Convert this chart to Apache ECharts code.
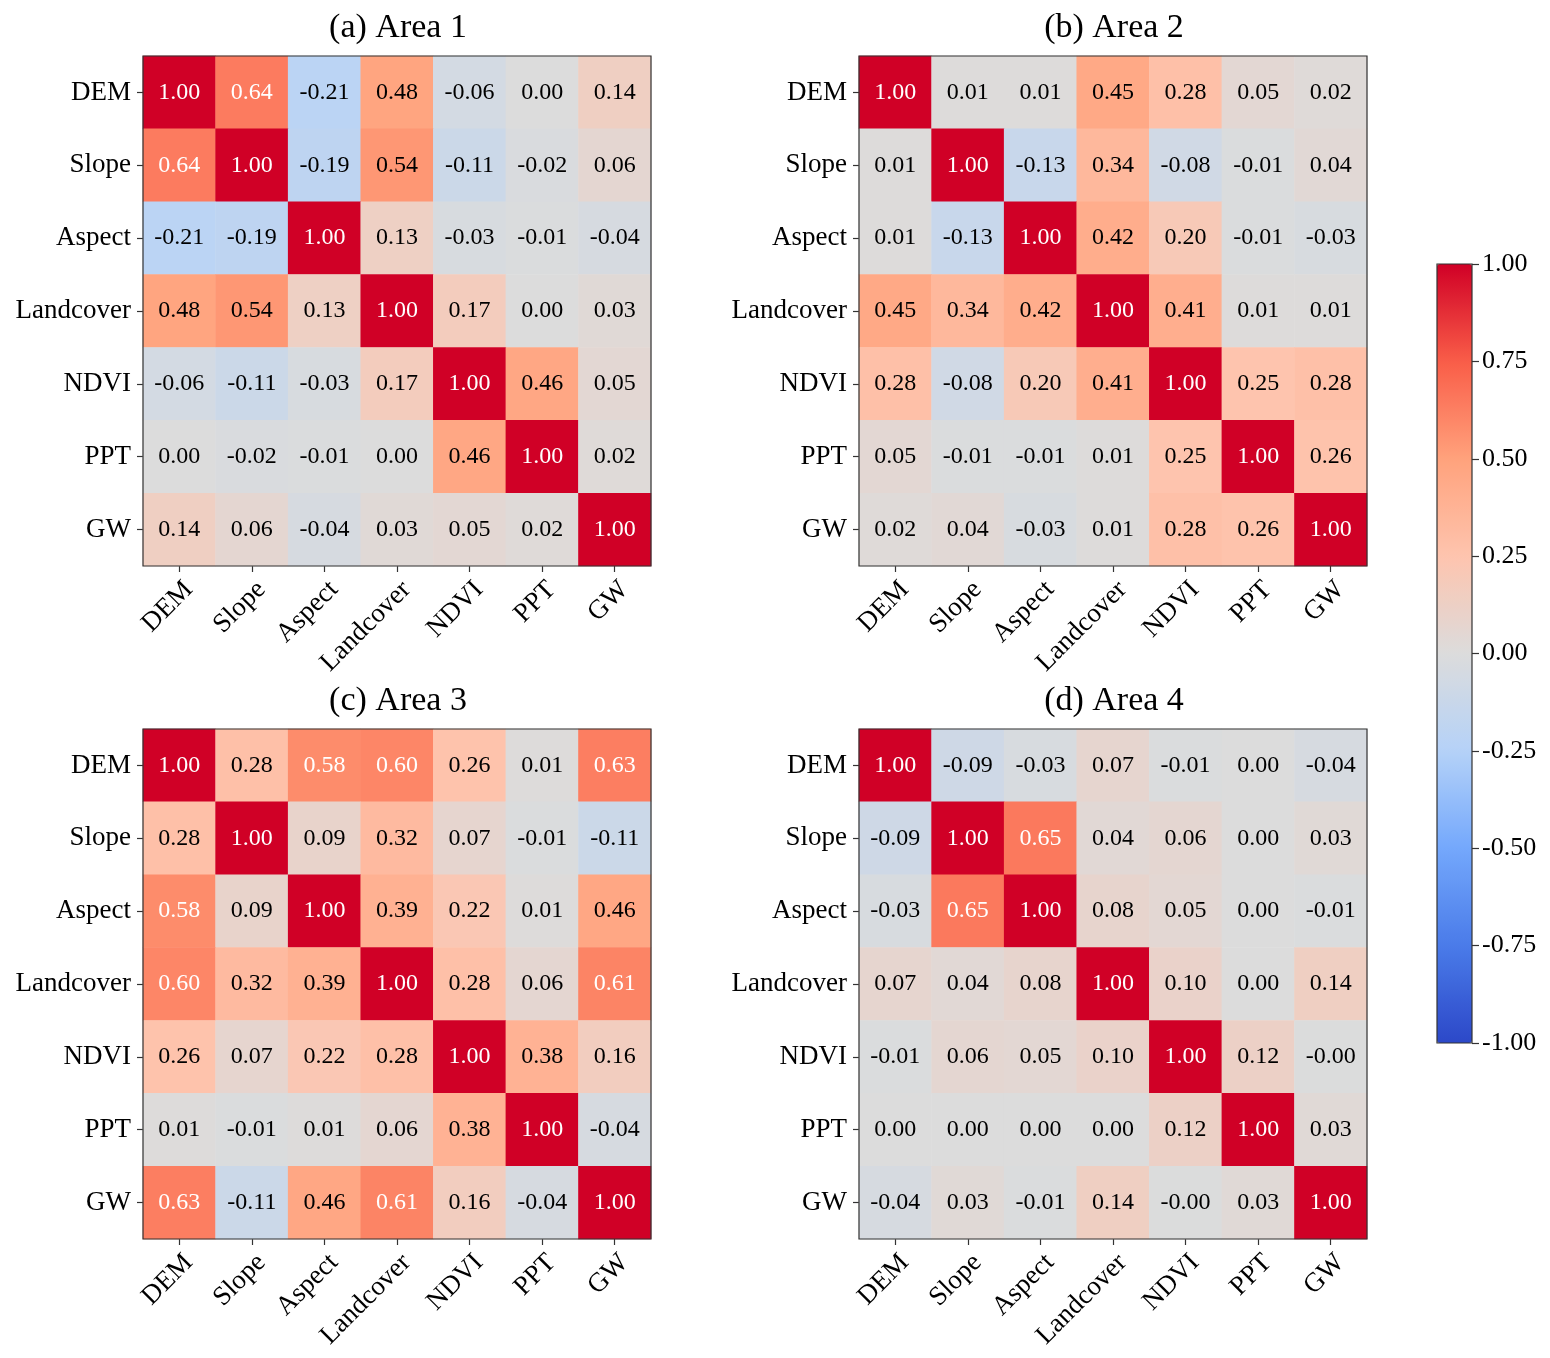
<!DOCTYPE html>
<html>
<head>
<meta charset="utf-8">
<script src="https://cdn.jsdelivr.net/npm/echarts@6/dist/echarts.min.js"></script>
<style>
  html, body { margin: 0; padding: 0; background: #fff; }
  #main { width: 1550px; height: 1358px; }
</style>
</head>
<body>
<div id="main"></div>
<script>
'use strict'
// Variables
var variables = ['DEM', 'Slope', 'Aspect', 'Landcover', 'NDVI', 'PPT', 'GW']

// Correlation matrices, one row per variable
var area1 = [
  [1.00, 0.64, -0.21, 0.48, -0.06, 0.00, 0.14],
  [0.64, 1.00, -0.19, 0.54, -0.11, -0.02, 0.06],
  [-0.21, -0.19, 1.00, 0.13, -0.03, -0.01, -0.04],
  [0.48, 0.54, 0.13, 1.00, 0.17, 0.00, 0.03],
  [-0.06, -0.11, -0.03, 0.17, 1.00, 0.46, 0.05],
  [0.00, -0.02, -0.01, 0.00, 0.46, 1.00, 0.02],
  [0.14, 0.06, -0.04, 0.03, 0.05, 0.02, 1.00]
]
var area2 = [
  [1.00, 0.01, 0.01, 0.45, 0.28, 0.05, 0.02],
  [0.01, 1.00, -0.13, 0.34, -0.08, -0.01, 0.04],
  [0.01, -0.13, 1.00, 0.42, 0.20, -0.01, -0.03],
  [0.45, 0.34, 0.42, 1.00, 0.41, 0.01, 0.01],
  [0.28, -0.08, 0.20, 0.41, 1.00, 0.25, 0.28],
  [0.05, -0.01, -0.01, 0.01, 0.25, 1.00, 0.26],
  [0.02, 0.04, -0.03, 0.01, 0.28, 0.26, 1.00]
]
var area3 = [
  [1.00, 0.28, 0.58, 0.60, 0.26, 0.01, 0.63],
  [0.28, 1.00, 0.09, 0.32, 0.07, -0.01, -0.11],
  [0.58, 0.09, 1.00, 0.39, 0.22, 0.01, 0.46],
  [0.60, 0.32, 0.39, 1.00, 0.28, 0.06, 0.61],
  [0.26, 0.07, 0.22, 0.28, 1.00, 0.38, 0.16],
  [0.01, -0.01, 0.01, 0.06, 0.38, 1.00, -0.04],
  [0.63, -0.11, 0.46, 0.61, 0.16, -0.04, 1.00]
]
var area4 = [
  [1.00, -0.09, -0.03, 0.07, -0.01, 0.00, -0.04],
  [-0.09, 1.00, 0.65, 0.04, 0.06, 0.00, 0.03],
  [-0.03, 0.65, 1.00, 0.08, 0.05, 0.00, -0.01],
  [0.07, 0.04, 0.08, 1.00, 0.10, 0.00, 0.14],
  [-0.01, 0.06, 0.05, 0.10, 1.00, 0.12, -0.004],
  [0.00, 0.00, 0.00, 0.00, 0.12, 1.00, 0.03],
  [-0.04, 0.03, -0.01, 0.14, -0.004, 0.03, 1.00]
]
var titles = ['(a) Area 1', '(b) Area 2', '(c) Area 3', '(d) Area 4']
var matrices = [area1, area2, area3, area4]

// colorbar
var cbarMin = -1
var cbarMax = 1
var cbarInterval = 0.25
var cmap = ['#2c48c8', '#4a7be9', '#74a8fc', '#b5d2f8', '#dcdcdc', '#fec4ae', '#ffa27c', '#f95d48', '#d00026']

var FONT = 'Liberation Serif'
var frameColor = '#333'

var chart = echarts.init(document.getElementById('main'))

// panel boxes
var boxes = [
  { left: 143, top: 56 },
  { left: 859, top: 56 },
  { left: 143, top: 729 },
  { left: 859, top: 729 }
]
var W = 508
var H = 510

var grids = []
var xAxes = []
var yAxes = []
var series = []
var titleList = []

boxes.forEach(function (b, k) {
  grids.push({
    left: b.left, top: b.top, width: W, height: H,
    show: true, borderColor: frameColor, borderWidth: 1.2, z: 10
  })
  titleList.push({
    text: titles[k],
    left: b.left + W / 2 - 4,
    top: b.top - 50,
    textAlign: 'center',
    textStyle: { fontFamily: FONT, fontSize: 34, fontWeight: 'normal', color: '#000' }
  })
  xAxes.push({
    type: 'category', gridIndex: k, data: variables,
    axisLine: { show: false },
    axisTick: { show: true, alignWithLabel: true, length: 6, lineStyle: { color: frameColor, width: 1.2 } },
    axisLabel: {
      rotate: 45, margin: 10, verticalAlign: 'top',
      fontFamily: FONT, fontSize: 27, color: '#000'
    },
    splitLine: { show: false }
  })
  yAxes.push({
    type: 'category', gridIndex: k, data: variables, inverse: true,
    axisLine: { show: false },
    axisTick: { show: true, alignWithLabel: true, length: 6, lineStyle: { color: frameColor, width: 1.2 } },
    axisLabel: { margin: 12, fontFamily: FONT, fontSize: 27, color: '#000' },
    splitLine: { show: false }
  })
  var data = []
  matrices[k].forEach(function (row, i) {
    row.forEach(function (v, j) {
      data.push({
        value: [j, i, v],
        label: { color: v > 0.55 ? '#fff' : '#000' }
      })
    })
  })
  series.push({
    type: 'heatmap',
    xAxisIndex: k,
    yAxisIndex: k,
    data: data,
    label: {
      show: true,
      fontFamily: FONT,
      fontSize: 24,
      formatter: function (p) { return p.value[2].toFixed(2) }
    },
    itemStyle: { borderWidth: 0 },
    emphasis: { disabled: true }
  })
})

// colorbar axis
var cb = { left: 1437, top: 264, width: 35, height: 779 }
grids.push({
  left: cb.left, top: cb.top, width: cb.width, height: cb.height,
  show: true, borderColor: frameColor, borderWidth: 1.2, z: 10
})
xAxes.push({ type: 'category', gridIndex: 4, data: [''], show: false })
yAxes.push({
  type: 'value', gridIndex: 4, position: 'right',
  min: cbarMin, max: cbarMax, interval: cbarInterval,
  axisLine: { show: false },
  axisTick: { show: true, length: 7, lineStyle: { color: frameColor, width: 1.2 } },
  axisLabel: {
    margin: 10, fontFamily: FONT, fontSize: 26, color: '#000',
    formatter: function (v) { return v.toFixed(2) }
  },
  splitLine: { show: false }
})

chart.setOption({
  backgroundColor: '#fff',
  animation: false,
  title: titleList,
  grid: grids,
  xAxis: xAxes,
  yAxis: yAxes,
  visualMap: {
    type: 'continuous',
    min: cbarMin,
    max: cbarMax,
    seriesIndex: [0, 1, 2, 3],
    dimension: 2,
    orient: 'vertical',
    left: cb.left - 15,
    top: cb.top - 15,
    itemWidth: cb.width,
    itemHeight: cb.height,
    calculable: false,
    hoverLink: false,
    text: null,
    inRange: { color: cmap }
  },
  series: series
})
</script>
</body>
</html>
